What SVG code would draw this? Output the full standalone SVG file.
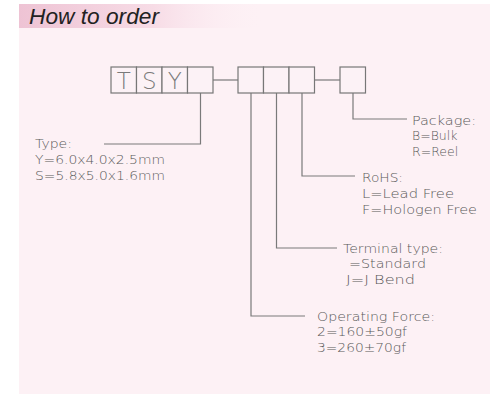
<svg xmlns="http://www.w3.org/2000/svg" width="493" height="397" viewBox="0 0 493 397">
  <defs>
    <linearGradient id="hdr" x1="0" y1="0" x2="1" y2="0">
      <stop offset="0" stop-color="#eec3d4"/>
      <stop offset="0.55" stop-color="#f7dce6"/>
      <stop offset="1" stop-color="#fdf0f5" stop-opacity="0"/>
    </linearGradient>
    <style>
      .cell { fill: #fcf2f6; stroke: #777; stroke-width: 1.2; }
      .big { font-family: "DejaVu Sans", "Liberation Sans", sans-serif; font-weight: 200; font-size: 23px; fill: #7a7a7a; text-anchor: middle; }
      .lbl { font-family: "DejaVu Sans", "Liberation Sans", sans-serif; font-weight: 200; font-size: 12.5px; fill: #5a5a5a; }
      .wire { fill: none; stroke: #7a7a7a; stroke-width: 1.2; }
      .title { font-family: "Liberation Sans", Arial, sans-serif; font-size: 22px; font-style: italic; fill: #222; }
    </style>
  </defs>
  <rect x="0" y="0" width="493" height="397" fill="#ffffff"/>
  <rect x="19" y="4" width="471" height="390" fill="#fdf1f5"/>
  <g id="title">
    <rect x="19" y="4" width="245" height="24" fill="url(#hdr)"/>
    <text class="title" x="29" y="24" textLength="130" lengthAdjust="spacingAndGlyphs">How to order</text>
  </g>

  <g id="connectors">
    <path class="wire" d="M213,80 H238"/>
    <path class="wire" d="M314.5,80 H340"/>
    <path class="wire" d="M200.5,93 V144 H104"/>
    <path class="wire" d="M251,93 V316 H305"/>
    <path class="wire" d="M276.5,93 V248 H337"/>
    <path class="wire" d="M302,93 V176 H355"/>
    <path class="wire" d="M353,93 V119 H407"/>
  </g>

  <g id="code-tsy">
    <rect class="cell" x="111" y="67" width="25.5" height="26"/>
    <rect class="cell" x="136.5" y="67" width="25.5" height="26"/>
    <rect class="cell" x="162" y="67" width="25.5" height="26"/>
    <rect class="cell" x="187.5" y="67" width="25.5" height="26"/>
    <text class="big" x="123.8" y="89">T</text>
    <text class="big" x="149.3" y="89">S</text>
    <text class="big" x="174.8" y="89">Y</text>
  </g>
  <g id="code-mid">
    <rect class="cell" x="238" y="67" width="25.5" height="26"/>
    <rect class="cell" x="263.5" y="67" width="25.5" height="26"/>
    <rect class="cell" x="289" y="67" width="25.5" height="26"/>
  </g>
  <g id="code-pkg">
    <rect class="cell" x="340" y="67" width="25.5" height="26"/>
  </g>

  <g id="label-type">
    <text class="lbl" x="35" y="148" textLength="37" lengthAdjust="spacingAndGlyphs">Type:</text>
    <text class="lbl" x="35" y="164" textLength="130" lengthAdjust="spacingAndGlyphs">Y=6.0x4.0x2.5mm</text>
    <text class="lbl" x="35" y="180" textLength="130" lengthAdjust="spacingAndGlyphs">S=5.8x5.0x1.6mm</text>
  </g>
  <g id="label-package">
    <text class="lbl" x="412" y="124.5" textLength="64" lengthAdjust="spacingAndGlyphs">Package:</text>
    <text class="lbl" x="412" y="140">B=Bulk</text>
    <text class="lbl" x="412" y="156">R=Reel</text>
  </g>
  <g id="label-rohs">
    <text class="lbl" x="362" y="181.5" textLength="41" lengthAdjust="spacingAndGlyphs">RoHS:</text>
    <text class="lbl" x="362" y="197.5" textLength="92" lengthAdjust="spacingAndGlyphs">L=Lead  Free</text>
    <text class="lbl" x="362" y="213.5" textLength="115" lengthAdjust="spacingAndGlyphs">F=Hologen  Free</text>
  </g>
  <g id="label-terminal">
    <text class="lbl" x="343" y="252.5" textLength="100" lengthAdjust="spacingAndGlyphs">Terminal  type:</text>
    <text class="lbl" x="349" y="268" textLength="77" lengthAdjust="spacingAndGlyphs">=Standard</text>
    <text class="lbl" x="346" y="283.5" textLength="69" lengthAdjust="spacingAndGlyphs">J=J  Bend</text>
  </g>
  <g id="label-force">
    <text class="lbl" x="317" y="320.5" textLength="118" lengthAdjust="spacingAndGlyphs">Operating  Force:</text>
    <text class="lbl" x="317" y="336" textLength="90" lengthAdjust="spacingAndGlyphs">2=160±50gf</text>
    <text class="lbl" x="317" y="352" textLength="89" lengthAdjust="spacingAndGlyphs">3=260±70gf</text>
  </g>
</svg>
